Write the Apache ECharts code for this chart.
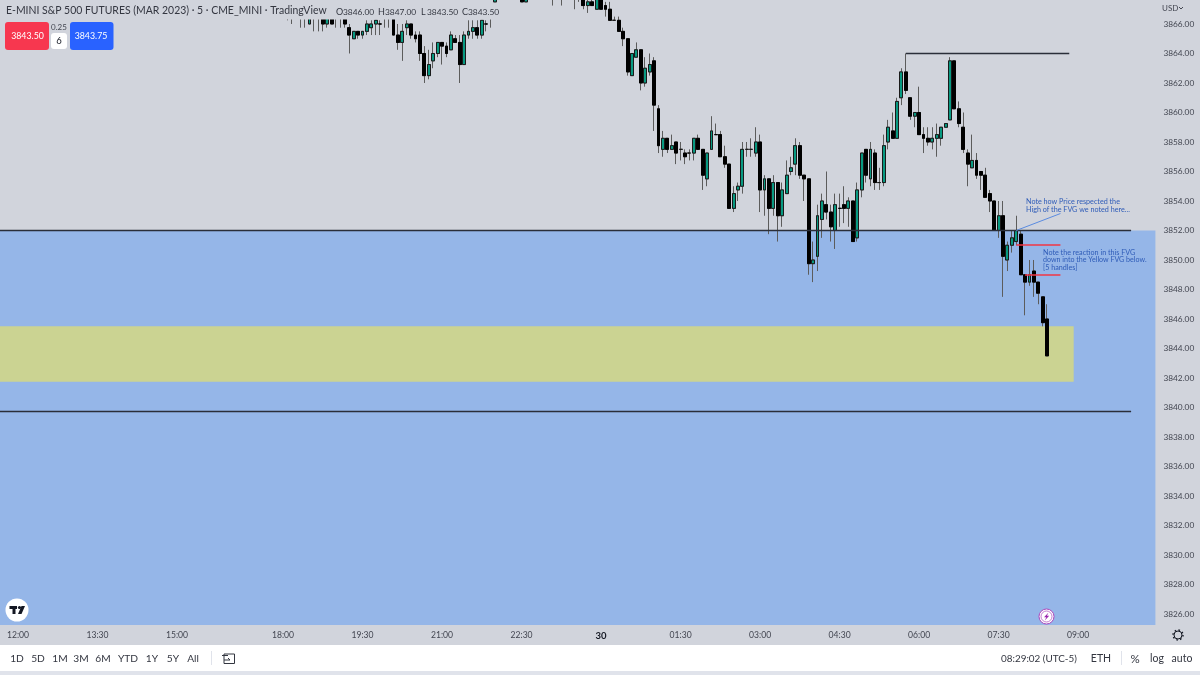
<!DOCTYPE html>
<html lang="en">
<head>
    <meta charset="UTF-8">
    <title>E-MINI S&amp;P 500 FUTURES</title>
    <script src="https://cdn.jsdelivr.net/npm/echarts@6/dist/echarts.min.js"></script>
    <style>
        html, body { margin: 0; padding: 0; background: #D1D4DC; }
    </style>
</head>
<body>
<div id="main" style="width: 1200px;height:675px;"></div>
<script type="text/javascript">
    // bar 0 = 12:00, 18:05 is bar 61, last bar (08:25) is bar 233
    var firstBar = 61;
    var opens = [
        3866.75,3866.5,3866.75,3866.75,3866.5,3866,3866.5,3866.75,3866.5,3866,
        3866.5,3866.5,3866.75,3866.5,3865.75,3865,3865.5,3865.25,3865.5,3865.75,
        3866,3866,3866.5,3866.75,3866.5,3865.25,3864.75,3865.75,3866,3865.25,
        3865.25,3864,3862.5,3863.5,3864,3864.75,3864.5,3864.25,3865,3864.75,
        3863.25,3865.25,3865.5,3865.75,3865.25,3866,3866.5,
        3867.5,3868.5,3869.5,3870,3870,3869.5,3868.5,3867.5,3868.5,3869,3869.5,3870,3869.5,3869,3868.5,3868,3868.5,3869,3868.5,3868,3867.75,3867.25,3867.5,
        3867,3868,3867.25,3867,3866.25,3866.25,3865.5,3865,3862.5,3863.75,
        3864.25,3862,3862.75,3863.5,3860.25,3857.5,3858.25,3857.5,3858,3857.5,
        3857.25,3857.25,3857.25,3858.25,3857.5,3855.5,3857.5,3858.5,3858.5,3857,
        3856.5,3853.5,3854.75,3855,3857.5,3857.5,3857.25,3858,3854.75,3855.5,
        3853.5,3855.25,3853,3854.5,3856,3856.5,3857.75,3855.75,3855.5,3849.75,
        3850.25,3852.75,3853.75,3853.25,3852,3853.5,3853.75,3853.5,3854,3851.5,
        3854.75,3857.5,3855.5,3857.25,3855.25,3855.25,3858,3858.75,3858.25,3861,
        3862.75,3861,3859.75,3860,3858.5,3858.25,3858,3858.25,3858.25,3859,
        3859.5,3863.5,3860.25,3859,3857.25,3856.25,3856.75,3856,3855.75,3854.5,
        3854,3852,3853,3850,3851,3851.25,3851.75,3849,3848.5,3849.25,3848.5,3847.5,3846
    ];
    var closes = [
        3866.5,3866.75,3866.75,3866.5,3866.75,3866.5,3866.75,3866.5,3866,3866.5,
        3866,3866.75,3866.5,3866,3865.25,3865.5,3865.25,3865.5,3866,3866,
        3866.25,3866,3866.75,3866.5,3865.25,3864.75,3865.5,3866,3865.25,3865,
        3864,3862.5,3863.25,3864,3864.75,3864.5,3864,3865.25,3864.75,3863.25,
        3865.25,3865.5,3865.75,3865.25,3866.25,3866,3866.75,
        3868,3869.5,3870,3870.5,3869.5,3868.5,3867.5,3868.5,3869,3869.5,3870,3869.5,3869,3868.5,3868,3868.5,3869,3868.5,3868,3867.75,3867.25,3867.5,3867.25,
        3868,3867,3867,3866.25,3866.25,3865.5,3865,3862.75,3864,3864.25,
        3862,3863,3863.25,3860.5,3857.75,3858.25,3857.5,3857.75,3857.25,3857.5,
        3857,3857.25,3858.25,3857.5,3855.75,3857.25,3858.75,3858.5,3857,3856.5,
        3853.5,3854.5,3855,3857.5,3857.5,3857.5,3858,3854.75,3855.5,3853.5,
        3855.25,3853,3854.75,3855.75,3856.25,3857.75,3855.75,3855.5,3849.75,3850,
        3853,3854,3853.25,3852.25,3853.75,3853.5,3853.5,3854,3851.25,3854.75,
        3857.25,3855.75,3857.5,3855.25,3855.25,3857.75,3859,3858.25,3860.75,3862.75,
        3861.5,3859.75,3860,3858.5,3858.25,3858,3858.25,3858.5,3859,3859.25,
        3863.5,3860.25,3859.25,3857.5,3856.5,3856.75,3855.75,3855.75,3854.25,3854,
        3852,3853,3850.25,3851,3851.5,3852,3849,3848.5,3849,3848.5,3847.75,3845.75,3843.5
    ];
    var lows = [
        3866.25,3866,3866.5,3865.75,3865.75,3866,3865.5,3865.5,3865.5,3865.75,
        3866,3865.75,3865.75,3865.75,3864,3865,3865,3865,3865.25,3865.25,
        3865.25,3865.25,3865.75,3865.75,3865.25,3864.25,3863.5,3865.25,3865,3864.75,
        3863.5,3862,3862.25,3863,3863.75,3863.25,3863.75,3864.25,3864.75,3862,
        3863.25,3865,3865,3865,3865,3865.5,3865.75,
        3867.5,3868.5,3869,3869.5,3869,3868,3867.5,3867.5,3868,3868.5,3869,3868.75,3868,3867.25,3867.75,3867.25,3868,3868,3867,3867.5,3867,3866.75,3867.25,
        3867,3867,3866.5,3866.25,3866.25,3865.5,3864.5,3862.5,3862.5,3863.75,
        3861.5,3861.75,3862.5,3858.75,3857.25,3857,3857.25,3857.5,3856.5,3856.75,
        3856.5,3856.75,3856.75,3857.5,3854.75,3855,3857.5,3858.5,3857,3856.25,
        3853.5,3853.25,3854,3854.5,3857,3857,3857,3853.25,3853,3851.75,
        3853,3851.25,3852.25,3854.5,3855.75,3855.75,3855.5,3854,3849,3848.5,
        3849.25,3851.5,3852.75,3851.25,3850.75,3852.25,3852.5,3852.25,3851.25,3851.25,
        3854.25,3855.25,3855,3854.75,3854.75,3855,3857.5,3858.25,3858.25,3860.5,
        3861.25,3859.5,3859,3858.5,3857.25,3857.75,3857.5,3857,3857.75,3859,
        3859.5,3860.25,3859,3857.25,3855,3856.25,3855.5,3854.75,3854.25,3853.25,
        3852,3851.5,3847.5,3849.25,3850.5,3851,3849,3846.25,3848.25,3847.5,3847,3845.5,3843.5
    ];
    var highs = [
        3867,3867,3867,3867,3867,3866.75,3867,3867,3866.75,3866.75,
        3866.75,3867,3867,3866.75,3866,3865.5,3865.5,3865.5,3866.25,3866.25,
        3866.25,3866.25,3867,3867,3866.75,3866,3866,3866.25,3866,3865.5,
        3865.5,3864.5,3864.25,3864.75,3864.75,3864.75,3864.75,3865.5,3865.25,3865.25,
        3865.5,3866.25,3866.25,3866.25,3866.25,3866.25,3867,
        3868.5,3870,3870.5,3871,3870.5,3870,3869,3868.75,3869.25,3870,3870.5,3870,3869.5,3869,3868.75,3869.25,3869.5,3869,3868.5,3868.25,3868,3867.75,3867.75,
        3868.25,3868.5,3867.5,3867.5,3866.5,3866.5,3865.75,3865,3864,3864.75,
        3864.25,3863.75,3864,3863.75,3860.5,3858.75,3858.25,3858.5,3858,3858,
        3857.5,3857.5,3858.25,3858.5,3857.5,3857.25,3859.75,3859.25,3858.75,3857.75,
        3856.5,3855,3855.25,3858,3858,3858.25,3859,3858.5,3855.75,3855.5,
        3855.75,3855.25,3855.25,3856.75,3857,3858.25,3858,3855.75,3855.5,3851.25,
        3853.75,3854.5,3856,3853.75,3854.5,3854.5,3855,3854.25,3854,3855.25,
        3857.25,3857.5,3858,3857.5,3856.25,3858.5,3859.5,3860,3861,3863,
        3864,3861,3860,3861.75,3859,3859,3859,3859.25,3859,3859.25,
        3863.75,3863.5,3860.75,3860,3857.5,3858.5,3857.25,3856,3856.25,3854.75,
        3854,3854,3854,3851.25,3852,3853,3852,3849,3850,3850,3848.5,3847.5,3847
    ];

    var yTicks = [3826,3828,3830,3832,3834,3836,3838,3840,3842,3844,3846,3848,3850,3852,3854,3856,3858,3860,3862,3864,3866];
    var xTickTimes = ['12:00','13:30','15:00','18:00','19:30','21:00','22:30','00:00','01:30','03:00','04:30','06:00','07:30','09:00'];

    // drawings on the chart [start bar, end bar, price]
    var levelLines = [[-6, 252, 3852], [-6, 252, 3839.75], [201, 238, 3864]];
    var redLines = [[226, 236, 3851], [228, 236, 3849]];
    var noteLine = [[226, 3852], [236, 3853.15]];
    var blueTop = 3852;
    var yellowZone = [-6, 239, 3845.5, 3841.75];

    var yMax = 3867.627, yMin = 3825.254;
    var barsBefore = 6;

    // 5 min categories from 11:30, session break 17:00-18:00 is left out
    var categories = [];
    var t = 11 * 60 + 30;
    while (categories.length < 264) {
        var m = t % 1440;
        if (m < 17 * 60 || m >= 18 * 60) {
            categories.push(('0' + Math.floor(m / 60)).slice(-2) + ':' + ('0' + (m % 60)).slice(-2));
        }
        t += 5;
    }

    // wicks and bodies are two layers, the wicks come out greyer than the bodies
    var wicks = [];
    var bodies = [];
    for (var i = 0; i < firstBar + barsBefore; i++) {
        wicks.push(['-', '-', '-', '-']);
        bodies.push(['-', '-', '-', '-']);
    }
    for (var j = 0; j < opens.length; j++) {
        wicks.push([opens[j], closes[j], lows[j], highs[j]]);
        bodies.push([opens[j], closes[j], Math.min(opens[j], closes[j]), Math.max(opens[j], closes[j])]);
    }

    function cat(bar) {
        return bar + barsBefore;
    }

    function txt(text, x, y, size, fill, align, family, weight) {
        return {
            type: 'text', z: 100,
            style: {
                text: text, x: x, y: y,
                font: (weight || 'normal') + ' ' + size + 'px ' + (family || 'Lato'),
                fill: fill || '#434651',
                textAlign: align || 'left',
                textVerticalAlign: 'middle'
            }
        };
    }
    function box(x, y, w, h, fill, r) {
        return {type: 'rect', z: 99, shape: {x: x, y: y, width: w, height: h, r: r || 0}, style: {fill: fill}};
    }

    var rangeButtons = [['1D', 17], ['5D', 38], ['1M', 60], ['3M', 81], ['6M', 103], ['YTD', 128], ['1Y', 152], ['5Y', 173], ['All', 193]];

    var chrome = [
        // legend backdrop hides the candles under the title line
        box(0, 4, 510, 15.5, '#D1D4DC'),
        txt('E-MINI S&P 500 FUTURES (MAR 2023) · 5 · CME_MINI · TradingView', 6, 11, 10.45, '#333640'),
        txt('O', 336, 12, 9, '#333640'), txt('3846.00', 343, 12, 8.4, '#333640'),
        txt('H', 378, 12, 9, '#333640'), txt('3847.00', 385, 12, 8.4, '#333640'),
        txt('L', 421, 12, 9, '#333640'), txt('3843.50', 427, 12, 8.4, '#333640'),
        txt('C', 462, 12, 9, '#333640'), txt('3843.50', 468, 12, 8.4, '#333640'),
        box(5, 22, 44, 28, '#F7374F', 3),
        txt('3843.50', 27.5, 36, 8.8, '#fff', 'center'),
        txt('0.25', 59, 27, 8, '#434651', 'center'),
        box(51, 33, 16, 16, '#fff', 3),
        txt('6', 59, 41, 9.5, '#131722', 'center'),
        box(70, 22, 43.5, 28, '#2962FF', 3),
        txt('3843.75', 91, 36, 8.8, '#fff', 'center'),
        txt('USD', 1162, 8, 8, '#434651'),
        {type: 'polyline', z: 100, shape: {points: [[1179, 7], [1181, 9], [1183, 7]]}, style: {stroke: '#434651', lineWidth: 1, fill: 'none'}},

        // notes
        txt('Note how Price respected the', 1026, 202, 7.2, '#2f5cb8'),
        txt('High of the FVG we noted here...', 1026, 209.5, 7.2, '#2f5cb8'),
        txt('Note the reaction in this FVG', 1043, 253, 7.2, '#2f5cb8'),
        txt('down into the Yellow FVG below.', 1043, 260, 7.1, '#2f5cb8'),
        txt('[5 handles]', 1043, 267.5, 7.2, '#2f5cb8'),

        // TV badge
        {type: 'circle', z: 99, shape: {cx: 17, cy: 610, r: 11.5}, style: {fill: '#fff'}},
        box(9.5, 606, 7.5, 3, '#131722'),
        box(12.5, 606, 3, 8, '#131722'),
        {type: 'circle', z: 100, shape: {cx: 19.5, cy: 607.5, r: 1.6}, style: {fill: '#131722'}},
        {type: 'polygon', z: 100, shape: {points: [[21.5, 606], [25, 606], [21.5, 614], [18, 614]]}, style: {fill: '#131722'}},

        // lightning badge
        {type: 'circle', z: 99, shape: {cx: 1046.5, cy: 616.5, r: 7.5}, style: {fill: '#fff', stroke: '#AB47BC', lineWidth: 1}},
        {type: 'circle', z: 99, shape: {cx: 1046.5, cy: 616.5, r: 5.5}, style: {fill: '#fff', stroke: '#9C27B0', lineWidth: 0.6}},
        {type: 'polygon', z: 100, shape: {points: [[1048.5, 612.5], [1044, 617.3], [1046.3, 617.3], [1044.8, 620.5], [1049.2, 615.7], [1046.9, 615.7]]}, style: {fill: '#9C27B0'}},

        // settings gear
        {type: 'circle', z: 100, shape: {cx: 1178, cy: 635, r: 4}, style: {fill: 'none', stroke: '#131722', lineWidth: 1}},
        {type: 'circle', z: 100, shape: {cx: 1178, cy: 635, r: 5}, style: {fill: 'none', stroke: '#131722', lineWidth: 1.4, lineDash: [1.6, 2.3]}},

        // bottom toolbar
        box(0, 645, 1200, 26, '#fff'),
        box(0, 671, 1200, 4, '#E0E3EB'),
        box(211, 651, 1, 14, '#E0E3EB'),
        box(1121, 651, 1, 14, '#E0E3EB'),
        {type: 'rect', z: 100, shape: {x: 224, y: 654, width: 10.5, height: 9.5}, style: {fill: 'none', stroke: '#333640', lineWidth: 1}},
        box(222, 655, 6, 1, '#333640'),
        {type: 'polyline', z: 100, shape: {points: [[224, 660], [230, 660], [228, 658]]}, style: {stroke: '#333640', lineWidth: 1, fill: 'none'}},
        txt('08:29:02 (UTC-5)', 1001, 659, 9.9, '#333640'),
        txt('ETH', 1101, 659, 10.5, '#333640', 'center'),
        txt('%', 1135, 659, 11.5, '#333640', 'center'),
        txt('log', 1157, 659, 10.5, '#333640', 'center'),
        txt('auto', 1182, 659, 10.5, '#333640', 'center')
    ];
    rangeButtons.forEach(function (b) {
        chrome.push(txt(b[0], b[1], 659, 10.2, '#333640', 'center'));
    });

    var myChart = echarts.init(document.getElementById('main'));

    var option = {
        backgroundColor: '#D1D4DC',
        animation: false,
        textStyle: {fontFamily: 'Lato'},
        grid: {left: -10.7, top: 0, width: 1166.1, height: 625, outerBoundsMode: 'none'},
        xAxis: {
            type: 'category',
            data: categories,
            axisLine: {show: false},
            axisTick: {show: false},
            splitLine: {show: false},
            axisLabel: {
                color: '#434651',
                fontSize: 8.6,
                margin: 6,
                fontFamily: 'Lato',
                interval: function (index, value) {
                    return xTickTimes.indexOf(value) >= 0;
                },
                formatter: function (value) {
                    return value === '00:00' ? '{day|30}' : value;
                },
                rich: {day: {fontWeight: 'bold', fontSize: 9.5, color: '#131722', fontFamily: 'Lato'}}
            }
        },
        yAxis: {
            type: 'value',
            position: 'right',
            min: yMin,
            max: yMax,
            scale: true,
            axisLine: {show: false},
            axisTick: {show: false},
            splitLine: {show: false},
            axisLabel: {
                customValues: yTicks,
                color: '#434651',
                fontSize: 8.3,
                fontFamily: 'Lato',
                margin: 8,
                formatter: function (v) {
                    return v.toFixed(2);
                }
            }
        },
        series: [{
            type: 'candlestick',
            data: wicks,
            barWidth: 3.4,
            z: 3,
            itemStyle: {
                color: '#089981',
                color0: '#000000',
                borderColor: '#5c5c5c',
                borderColor0: '#5c5c5c',
                borderWidth: 1
            },
            markArea: {
                silent: true,
                data: [
                    [{yAxis: blueTop, itemStyle: {color: '#95B6E8', opacity: 1}}, {yAxis: yMin}],
                    [{coord: [0, yellowZone[2]], itemStyle: {color: '#CBD392', opacity: 1}}, {coord: [cat(yellowZone[1]), yellowZone[3]]}]
                ]
            },
            markLine: {
                silent: true,
                symbol: 'none',
                label: {show: false},
                data: levelLines.map(function (l) {
                    return [{coord: [cat(l[0]), l[2]], lineStyle: {color: '#2a2e39', width: 1.4, type: 'solid'}}, {coord: [cat(l[1]), l[2]]}];
                }).concat(redLines.map(function (l) {
                    return [{coord: [cat(l[0]), l[2]], lineStyle: {color: '#F23645', width: 1.6, type: 'solid'}}, {coord: [cat(l[1]), l[2]]}];
                })).concat([[
                    {coord: [cat(noteLine[0][0]), noteLine[0][1]], lineStyle: {color: '#5a8be0', width: 1, type: 'solid'}},
                    {coord: [cat(noteLine[1][0]), noteLine[1][1]]}
                ]])
            }
        }, {
            type: 'candlestick',
            data: bodies,
            barWidth: 3.4,
            z: 4,
            itemStyle: {
                color: '#089981',
                color0: '#000000',
                borderColor: '#1a1a1a',
                borderColor0: '#000000',
                borderWidth: 1
            }
        }],
        graphic: {elements: chrome}
    };

    myChart.setOption(option);
</script>
</body>
</html>
